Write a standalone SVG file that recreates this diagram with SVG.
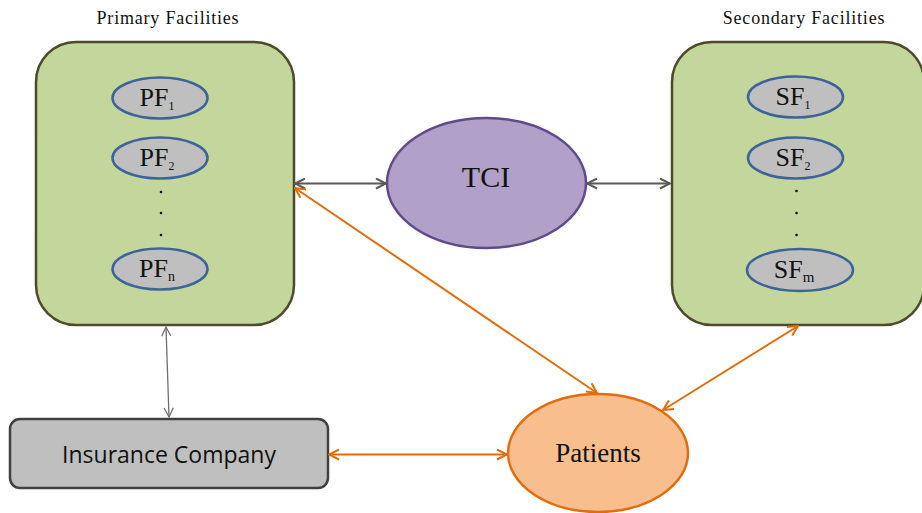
<svg xmlns="http://www.w3.org/2000/svg" width="922" height="513" viewBox="0 0 922 513">
  <style>
    .serif { font-family: "Liberation Serif", "DejaVu Serif", serif; fill: #111; }
    .sans { font-family: "Open Sans", "Liberation Sans", sans-serif; fill: #111; }
    .title { font-size: 18px; letter-spacing: 0.8px; }
    .group-box { fill: #c3d69b; stroke: #4f4a2c; stroke-width: 2.5; }
    .fac { fill: #bfbfbf; stroke: #3d649a; stroke-width: 2.5; }
    .gray-link { fill: none; stroke: #595959; stroke-width: 2; }
    .thin-link { fill: none; stroke: #6f6f6f; stroke-width: 1.3; }
    .orange-link { fill: none; stroke: #e36c09; stroke-width: 2; }
    .dot { fill: #111; }
  </style>
  <defs>
    <marker id="ah-gray" viewBox="0 0 12 12" refX="11" refY="6" markerWidth="12" markerHeight="12" markerUnits="userSpaceOnUse" orient="auto-start-reverse">
      <path d="M1,1 L11,6 L1,11" fill="none" stroke="#595959" stroke-width="2"/>
    </marker>
    <marker id="ah-thin" viewBox="0 0 12 12" refX="11" refY="6" markerWidth="11" markerHeight="11" markerUnits="userSpaceOnUse" orient="auto-start-reverse">
      <path d="M1,1 L11,6 L1,11" fill="none" stroke="#6f6f6f" stroke-width="1.4"/>
    </marker>
    <marker id="ah-orange" viewBox="0 0 12 12" refX="11" refY="6" markerWidth="12" markerHeight="12" markerUnits="userSpaceOnUse" orient="auto-start-reverse">
      <path d="M1,1 L11,6 L1,11" fill="none" stroke="#e36c09" stroke-width="2"/>
    </marker>
  </defs>

  <rect width="922" height="513" fill="#ffffff"/>

  <!-- Primary facilities container -->
  <g id="primary-facilities">
    <text class="serif title" x="168" y="24" text-anchor="middle">Primary Facilities</text>
    <rect class="group-box" x="36" y="42" width="258" height="283" rx="40"/>
    <g id="pf1">
      <ellipse class="fac" cx="160" cy="98" rx="47.5" ry="20.5"/>
      <text class="serif" x="157" y="106" font-size="26" text-anchor="middle">PF<tspan font-size="12" dy="4">1</tspan></text>
    </g>
    <g id="pf2">
      <ellipse class="fac" cx="160" cy="158" rx="47.5" ry="20.5"/>
      <text class="serif" x="157" y="166" font-size="26" text-anchor="middle">PF<tspan font-size="12" dy="4">2</tspan></text>
    </g>
    <circle class="dot" cx="161" cy="192" r="1.3"/>
    <circle class="dot" cx="161" cy="213" r="1.3"/>
    <circle class="dot" cx="161" cy="235" r="1.3"/>
    <g id="pfn">
      <ellipse class="fac" cx="160" cy="269" rx="47.5" ry="20.5"/>
      <text class="serif" x="157" y="277" font-size="26" text-anchor="middle">PF<tspan font-size="14" dy="4">n</tspan></text>
    </g>
  </g>

  <!-- Secondary facilities container -->
  <g id="secondary-facilities">
    <text class="serif title" x="804" y="24" text-anchor="middle">Secondary Facilities</text>
    <rect class="group-box" x="672" y="42" width="252" height="283" rx="40"/>
    <g id="sf1">
      <ellipse class="fac" cx="795.5" cy="97" rx="47.5" ry="20.5"/>
      <text class="serif" x="793" y="105" font-size="26" text-anchor="middle">SF<tspan font-size="12" dy="4">1</tspan></text>
    </g>
    <g id="sf2">
      <ellipse class="fac" cx="795.5" cy="158" rx="47.5" ry="20.5"/>
      <text class="serif" x="793" y="166" font-size="26" text-anchor="middle">SF<tspan font-size="12" dy="4">2</tspan></text>
    </g>
    <circle class="dot" cx="796.5" cy="191" r="1.3"/>
    <circle class="dot" cx="796.5" cy="213" r="1.3"/>
    <circle class="dot" cx="796.5" cy="235" r="1.3"/>
    <g id="sfm">
      <ellipse class="fac" cx="800" cy="270" rx="53" ry="21"/>
      <text class="serif" x="794" y="278" font-size="26" text-anchor="middle">SF<tspan font-size="15" dy="4">m</tspan></text>
    </g>
  </g>

  <!-- TCI -->
  <g id="tci">
    <ellipse cx="486.5" cy="183" rx="99.5" ry="65" fill="#b1a0c7" stroke="#5f4b8b" stroke-width="2.5"/>
    <text class="serif" x="486" y="187" font-size="30" text-anchor="middle">TCI</text>
  </g>

  <!-- Insurance company -->
  <g id="insurance-company">
    <rect x="10" y="419" width="318" height="69" rx="10" fill="#bfbfbf" stroke="#404040" stroke-width="2.5"/>
    <text class="sans" x="169" y="463" font-size="23" text-anchor="middle">Insurance Company</text>
  </g>

  <!-- Patients -->
  <g id="patients">
    <ellipse cx="598" cy="453" rx="90" ry="59" fill="#f9be8e" stroke="#e46c0a" stroke-width="2.5"/>
    <text class="serif" x="598" y="462" font-size="27" text-anchor="middle">Patients</text>
  </g>

  <!-- Connectors -->
  <g id="connectors">
    <path class="gray-link" d="M295,183.5 L386,183.5" marker-start="url(#ah-gray)" marker-end="url(#ah-gray)"/>
    <path class="gray-link" d="M587,183.5 L670,183.5" marker-start="url(#ah-gray)" marker-end="url(#ah-gray)"/>
    <path class="thin-link" d="M166,327 L169,417" marker-start="url(#ah-thin)" marker-end="url(#ah-thin)"/>
    <path class="orange-link" d="M295,188 L597,393" marker-start="url(#ah-orange)" marker-end="url(#ah-orange)"/>
    <path class="orange-link" d="M798,326 L663,410" marker-start="url(#ah-orange)" marker-end="url(#ah-orange)"/>
    <path class="orange-link" d="M329,454.5 L507,454.5" marker-start="url(#ah-orange)" marker-end="url(#ah-orange)"/>
  </g>
</svg>
